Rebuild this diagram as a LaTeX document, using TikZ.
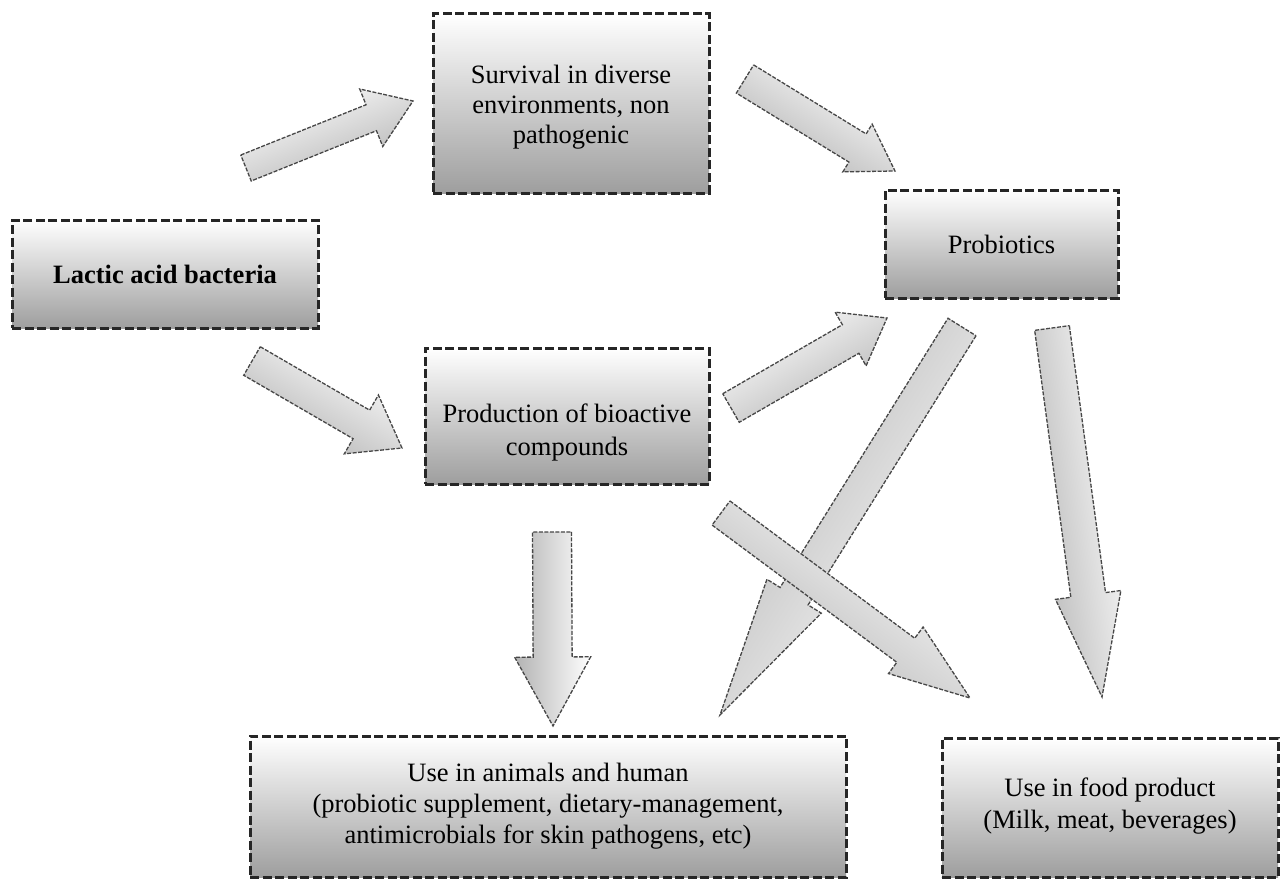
\documentclass[tikz,border=0pt]{standalone}
\usepackage{fontspec}
\setmainfont{Liberation Serif}
\usetikzlibrary{calc}
\tikzset{
  box/.style={draw=black!85, line width=3pt, dash pattern=on 9pt off 3.5pt,
    top color=white, bottom color=black!38, align=center, inner sep=0pt,
    font=\fontsize{26.5}{31}\selectfont},
  blk/.style={draw=black!72, line width=1.3pt, dash pattern=on 4pt off 1.5pt,
    top color=black!30, bottom color=white, line join=miter},
}
% #1 tail, #2 tip, #3 half shaft, #4 half head, #5 head length, #6 shading angle, #7 name
\newcommand\blockarrow[7]{%
  \coordinate (#7-hb) at ($(#2)!#5!(#1)$);
  \draw[blk, shading angle=#6] ($(#1)!#3!90:(#2)$) -- ($(#7-hb)!#3!90:(#2)$)
    -- ($(#7-hb)!#4!90:(#2)$) -- (#2) -- ($(#7-hb)!#4!-90:(#2)$)
    -- ($(#7-hb)!#3!-90:(#2)$) -- ($(#1)!#3!-90:(#2)$) -- cycle;
}
\begin{document}
\begin{tikzpicture}[x=1pt,y=-1pt]
\useasboundingbox[fill=white] (0,0) rectangle (1284,880);

% boxes
\node[box, minimum width=306pt, minimum height=108pt, font=\fontsize{26.5}{31}\selectfont\bfseries] (lab) at (165,274) {Lactic acid bacteria};
\node[box, minimum width=276pt, minimum height=179pt] (surv) at (571,103.5) {};
\node[font=\fontsize{26.5}{30}\selectfont, align=center] (survt) at (571,107) {Survival in diverse\\environments, non\\pathogenic};
\node[box, minimum width=233pt, minimum height=108pt] (prob) at (1001.5,244) {Probiotics};
\node[box, minimum width=284pt, minimum height=136pt] (prod) at (567,416) {};
\node[font=\fontsize{26.5}{33}\selectfont, align=center] (prodt) at (567,432) {Production of bioactive\\compounds};
\node[box, minimum width=596pt, minimum height=141pt] (anim) at (548,806.5) {};
\node[font=\fontsize{26.5}{31}\selectfont, align=center] (animt) at (548,806) {Use in animals and human\\(probiotic supplement, dietary-management,\\antimicrobials for skin pathogens, etc)};
\node[box, minimum width=336pt, minimum height=139pt] (food) at (1110,807.5) {};
\node[font=\fontsize{26.5}{32}\selectfont, align=center] (foodt) at (1110,806) {Use in food product\\(Milk, meat, beverages)};

% arrow end points
\coordinate (a1t) at (246,168);  \coordinate (a1h) at (413,101);
\coordinate (a2t) at (252,361);  \coordinate (a2h) at (402,448);
\coordinate (a3t) at (745,79);   \coordinate (a3h) at (895,171);
\coordinate (a4t) at (731,408);  \coordinate (a4h) at (887,318);
\coordinate (a5t) at (962,327);  \coordinate (a5h) at (720,715);
\coordinate (a6t) at (721,513);  \coordinate (a6h) at (970,698);
\coordinate (a7t) at (1052,328); \coordinate (a7h) at (1102,697);
\coordinate (a8t) at (552,532);  \coordinate (a8h) at (553,726);

\blockarrow{a1t}{a1h}{14pt}{31pt}{45pt}{-158}{a1}
\blockarrow{a2t}{a2h}{16.5pt}{34pt}{47pt}{150}{a2}
\blockarrow{a3t}{a3h}{16.5pt}{28pt}{44pt}{148.5}{a3}
\blockarrow{a4t}{a4h}{16.5pt}{31pt}{42pt}{-150}{a4}
\blockarrow{a5t}{a5h}{16.5pt}{32pt}{140pt}{58}{a5}
\blockarrow{a6t}{a6h}{15pt}{29pt}{80pt}{143.4}{a6}
\blockarrow{a7t}{a7h}{17.5pt}{33pt}{103pt}{97.7}{a7}
\blockarrow{a8t}{a8h}{19.5pt}{38pt}{69pt}{90}{a8}
\end{tikzpicture}
\end{document}
